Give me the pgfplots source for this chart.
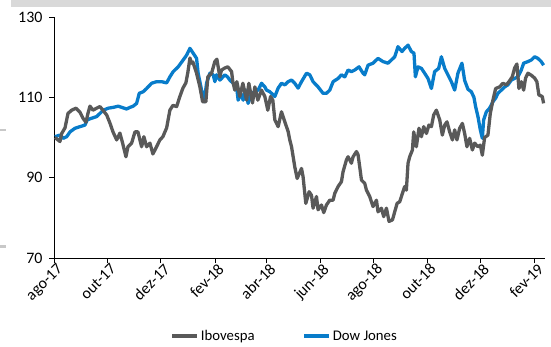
\documentclass[border=0pt]{standalone}
\usepackage{pgfplots}
\pgfplotsset{compat=1.18}
\usepackage{fontspec}
\setmainfont{Carlito}
\definecolor{ibov}{RGB}{89,89,89}
\definecolor{dow}{RGB}{8,124,202}
\definecolor{barg}{RGB}{217,217,217}
\definecolor{markg}{RGB}{200,200,200}
\begin{document}
\begin{tikzpicture}
\path[use as bounding box] (0,0) rectangle (551bp,347bp);
\fill[barg] (11bp,340bp) rectangle (551bp,347bp);
\fill[markg] (0bp,215.5bp) rectangle (6bp,218bp);
\fill[markg] (0bp,99bp) rectangle (6bp,101.5bp);
\begin{axis}[
  at={(54bp,89bp)}, anchor=south west,
  scale only axis, width=491bp, height=241bp,
  xmin=0, xmax=561, ymin=70, ymax=130,
  axis x line=bottom, axis y line=left,
  axis line style={-, black, line width=0.6bp},
  tick align=outside, major tick length=5bp,
  tick style={black, line width=0.6bp},
  xtick={0,61,122,184,243,304,365,426,487,549},
  xticklabels={ago-17,out-17,dez-17,fev-18,abr-18,jun-18,ago-18,out-18,dez-18,fev-19},
  ytick={70,90,110,130},
  /pgf/number format/assume math mode=true,
  tick label style={font=\fontsize{16}{18}\selectfont, text=black},
  xticklabel style={rotate=45, anchor=north east, inner sep=1bp, xshift=3bp},
  yticklabel style={xshift=-3bp},
  legend columns=2,
  legend style={at={(0.47,-0.324)}, anchor=center, draw=none, fill=none,
    font=\fontsize{14.8}{16}\selectfont, inner sep=0pt,
    /tikz/every even column/.append style={column sep=46bp}},
  legend image code/.code={\draw[#1] (0bp,0bp) -- (25bp,0bp);},
  clip=false,
]
\addlegendimage{ibov, line width=3.3bp}
\addlegendentry{Ibovespa}
\addlegendimage{dow, line width=3.3bp}
\addlegendentry{Dow Jones}
\addplot[dow, line width=3.3bp, line join=round, forget plot] table {
1.1 100.2
6.8 100.6
10.6 99.8
14.5 100.2
18.3 101.4
24 102.3
29.7 102.7
35.4 103.1
38 104.4
43 104.8
48.7 105.2
52.5 106
56.3 106.8
62 107.3
67.7 107.5
73.4 107.8
77.3 107.5
83 107.1
86.8 107.5
90.5 107.8
94.4 108.5
97.4 111
101.9 111.4
105.8 112.2
111.5 113.5
117.2 113.9
122.9 113.9
128.7 113.6
132.4 115.1
136.2 116.4
141.9 117.6
147.6 119.3
151.5 120.5
155.3 122.2
159 121
162.9 119.7
164.7 116
168.6 111.8
171.6 108.9
174.3 113.5
178.1 116
181.9 115.6
183.8 113.9
185.7 115.6
189.5 114.3
191.4 114.7
195.2 115.6
198.2 115.1
200.9 114.3
204.7 113.5
208.6 112.6
210.4 109.3
213.5 111
216.1 109.3
218.8 111.8
221.8 108.5
225.7 111
229.5 111.4
233.2 111.8
237.1 113.5
240.9 112.6
242.8 111.8
246.6 111.4
252.3 110.2
256.1 112.3
259.9 113.5
263.7 113.1
267.5 113.9
271.4 114.3
275.1 113.5
278.9 112.3
282.8 113.9
288.5 116
292.3 115.6
296 113.9
301.7 112.6
307.4 111
311.3 111
315.1 111.8
318.9 113.9
324.6 114.7
328.4 115.6
332.2 115.1
336 116.8
339.8 116.4
343.6 116.8
348.5 117.6
353.1 116
355 115.6
358.8 118
364.5 118.5
370.2 119.7
375.9 118.9
381.6 118.5
385.5 119.3
389.3 120.1
393 122.6
397.6 121.4
400.7 122.2
404.5 123
408.3 121.4
411.3 121
412.9 115.1
415.9 117.6
419.8 117.2
423.5 116
427.3 114.7
431.2 112.2
434.9 116.4
439.5 117.2
442.6 120.1
446.4 117.2
450.1 115.6
454 113.9
457.8 111.8
461.5 116
466.1 118.5
469.2 114.2
473 112
476.8 111.4
479.8 110
481.7 107.7
484.4 105.2
487.1 101.9
489.4 99.8
490.9 104.4
494 106.4
497.7 107.3
501.5 108.9
504.6 109.8
507.2 111
511.1 111.8
514.9 112.6
518.6 113.1
522.5 114.3
526.3 114.7
530 115.1
533.9 116.8
536.6 118.5
541.5 118.9
545.4 119.3
549.1 120.1
552.9 119.7
556.7 118.9
559.4 118
};
\addplot[ibov, line width=3.3bp, line join=round, forget plot] table {
1.1 100
6.8 99
8.8 101
12.6 102.4
16 106
20.2 106.8
25.1 107.3
29.7 106.3
33.1 104.8
36.5 103.8
38.8 106
41.1 107.8
44.5 106.8
48.7 107.3
52.5 107.7
55.9 106.8
60.2 105.6
63.9 103.6
67.4 101.4
71.6 99.4
75.3 101.1
78.4 98.6
82.2 95.2
84.5 97.7
88.7 98.6
92.5 101.4
95.9 101.4
100.1 97.7
102.7 100.2
105.8 97.7
109.6 98.6
113 95.9
117.2 97.7
121 99.4
124.4 100.2
128.7 102.4
132.4 106.8
135.9 108
140.1 107.7
143.8 110.2
147.3 112.3
150.7 113.6
153 116.3
155.3 119.8
157.2 118.5
158.7 118.8
162.9 116
166.7 112.6
169.8 108.9
173.5 108.9
175.8 115.1
180 116
183.8 118.9
186.1 119.5
189.5 115.1
191.4 116.8
195.2 117.3
198.6 117.6
202.9 116.4
204.3 113.9
206.6 111.8
208.9 113.9
212.3 110.2
215.8 113.5
220 109.3
222.6 113.5
226.8 108.6
229.5 112.6
232.9 109.3
237.1 111.8
240.9 110.2
244.3 106.8
247.4 110.2
250 109.3
252.3 104.4
256.1 102.7
259.9 106.4
263.7 103.9
267.5 101.5
269.4 99.4
271.4 97.7
275.1 92.7
277.8 89.8
282.8 92.3
284.6 90.2
287.7 83.6
291.5 86.5
294.2 85.6
296 82.4
299.9 85.3
301.7 82
305.6 83.2
308.2 81.3
311.3 83.2
315.1 84.4
318.9 84.4
320.8 86.1
324.6 87.8
328.4 89
330.3 91.5
334.1 94.4
336 95.2
339.8 93.6
341.7 95.2
345.6 96.5
347.4 95.7
349.3 92.7
351.3 89.4
355 88.6
357 86.9
360.7 85.3
364.5 82.8
368.4 84.4
370.2 81.5
374.1 82.4
376.7 80.3
379.8 82.4
382.8 79.1
386.7 79.5
389.3 81.5
392 83.6
395 84
398.1 86.1
400.7 87.8
402.6 86.9
404.5 93.6
406.4 95.2
409.5 96.9
411 101.4
414 97.7
417 102.3
419.8 100.2
422.4 102.7
425.5 101
428.4 103.1
431.2 102.7
433.8 105.6
436.9 106.8
440.7 104.4
443.7 100.6
446.4 103.1
449 103.9
452.1 101.4
455.2 99.4
457.8 101.9
460.4 99.4
463.5 102.3
466.6 103.5
469.2 101
471.8 97.7
474.9 99.8
478 96.9
480.6 98.6
484.4 97.7
487.1 98.1
489.4 95.6
492 100
495.8 100.6
498.5 106
501.5 109.3
504.6 112.2
509.1 112.6
512.9 113.5
516.8 113.1
519.8 113.9
523.6 115.1
526.3 117.3
528.9 118.3
531.2 112.2
533.9 113.9
536.6 111.8
538.8 114.8
541.5 116
545.4 115.5
549.1 114.8
551.7 113.9
554 110.6
557.9 110.2
559.4 108.5
};
\end{axis}
\end{tikzpicture}
\end{document}
